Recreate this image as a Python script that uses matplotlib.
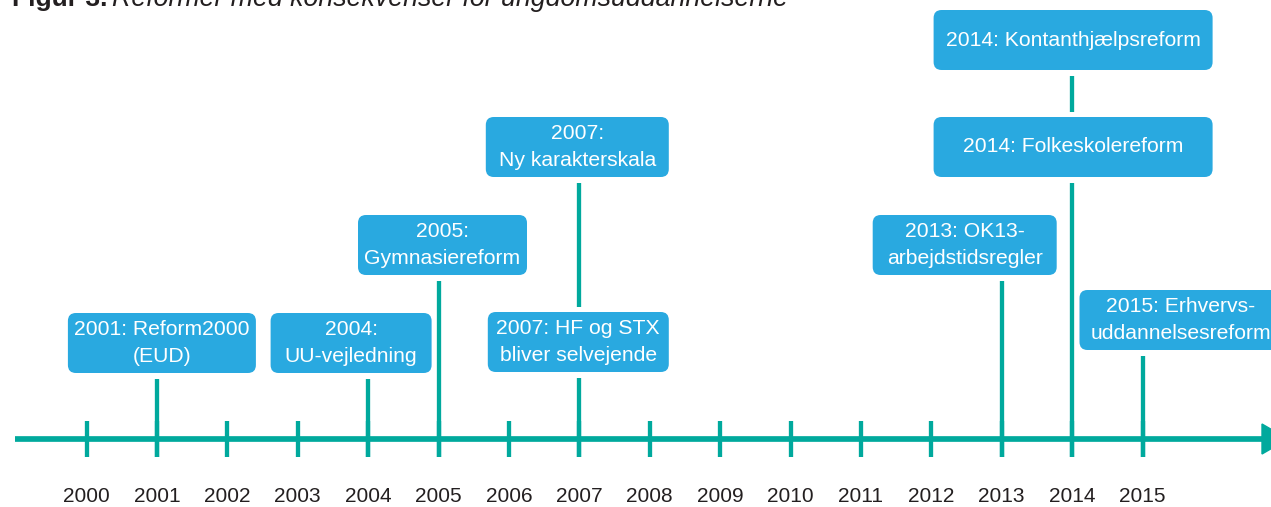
import matplotlib.pyplot as plt
from matplotlib.patches import FancyBboxPatch, Polygon

# tidslinje: år og reformer
years = list(range(2000, 2016))
event_years = [2001, 2004, 2005, 2007, 2007, 2013, 2014, 2014, 2015]
event_labels = [
    "2001: Reform2000\n(EUD)",
    "2004:\nUU-vejledning",
    "2005:\nGymnasiereform",
    "2007:\nNy karakterskala",
    "2007: HF og STX\nbliver selvejende",
    "2013: OK13-\narbejdstidsregler",
    "2014: Kontanthjælpsreform",
    "2014: Folkeskolereform",
    "2015: Erhvervs-\nuddannelsesreform",
]

# layout af boksene i pixels (forskydning, top, bredde)
box_dx = [5, -17, 4, -2, -1, -37, 1, 1, 38]
box_top = [313, 313, 215, 117, 312, 215, 10, 117, 290]
box_w = [188, 161, 169, 183, 181, 184, 279, 279, 202]
box_h = 60

BLUE = "#29a9e0"
TEAL = "#00a99d"
DARK = "#231f20"
FONT = "Liberation Sans"

W, H = 1271, 507
X0, STEP = 86.5, 70.4  # pixel for 2000 and pixels per year


def px(x):
    # pixel -> år
    return 2000 + (x - X0) / STEP


fig = plt.figure(figsize=(W / 100, H / 100), dpi=100)
ax = fig.add_axes([0, 0, 1, 1])
ax.set_xlim(px(0), px(W))
ax.set_ylim(H, 0)
ax.axis("off")

axis_y = 439
tick_top, tick_bot = 421, 457

# aksen med pil
ax.plot([px(15), px(1266)], [axis_y, axis_y], color=TEAL, lw=4.1,
        solid_capstyle="butt", zorder=2)
ax.add_patch(Polygon([(px(1262), axis_y - 15), (px(1262), axis_y + 15),
                      (px(1288), axis_y)], closed=True, color=TEAL, zorder=2))

# små tick for hvert år
ax.vlines(years, tick_top, tick_bot, color=TEAL, lw=3.1, zorder=2)

# stammer: fra aksen op til nederste boks, og mellem stablede bokse
for yr in sorted(set(event_years)):
    idx = [i for i, e in enumerate(event_years) if e == yr]
    idx.sort(key=lambda i: box_top[i], reverse=True)
    lowest = idx[0]
    ax.vlines(yr, box_top[lowest] + box_h + 6, tick_bot, color=TEAL, lw=3.1, zorder=2)
    for a, b in zip(idx[:-1], idx[1:]):
        ax.vlines(yr, box_top[b] + box_h + 6, box_top[a] - 5, color=TEAL, lw=3.1, zorder=2)

# boksene
r = 8 / STEP
for yr, lab, dx, top, w in zip(event_years, event_labels, box_dx, box_top, box_w):
    cx = yr + dx / STEP
    bw = w / STEP
    box = FancyBboxPatch((cx - bw / 2, top), bw, box_h,
                         boxstyle=f"round,pad=0,rounding_size={r}",
                         mutation_aspect=STEP, facecolor=BLUE, edgecolor="none",
                         zorder=3)
    ax.add_patch(box)
    ax.text(cx, top + box_h / 2, lab, ha="center", va="center", color="white",
            fontsize=15.2, family=FONT, linespacing=1.55, zorder=4)

# årstal under aksen
for yr in years:
    ax.text(yr, 497, str(yr), ha="center", va="center", color=DARK,
            fontsize=15, family=FONT)

# overskrift (skåret af i toppen)
t1 = ax.text(px(12), 6, "Figur 3.", fontsize=19, fontweight="bold", color=DARK,
             family=FONT, va="baseline", ha="left")
fig.canvas.draw()
bb = t1.get_window_extent()
ax.text(px(bb.x1 + 5), 6, "Reformer med konsekvenser for ungdomsuddannelserne",
        fontsize=19.3, style="italic", color=DARK, family=FONT, va="baseline", ha="left")

fig.savefig("out.png", dpi=100)
